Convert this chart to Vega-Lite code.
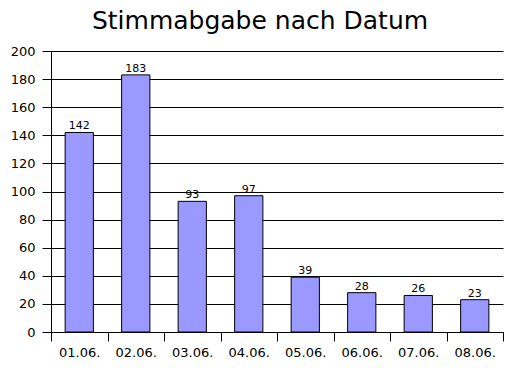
{
  "$schema": "https://vega.github.io/schema/vega-lite/v6.json",
  "width": 452,
  "height": 281,
  "autosize": {"type": "none"},
  "padding": {"left": 51, "top": 51, "right": 9, "bottom": 52},
  "background": "white",
  "title": {
    "text": "Stimmabgabe nach Datum",
    "font": "DejaVu Sans",
    "fontSize": 25,
    "fontWeight": "normal",
    "color": "black",
    "anchor": "middle",
    "baseline": "alphabetic",
    "offset": -9,
    "dx": -17
  },
  "config": {
    "view": {"stroke": null},
    "axis": {
      "labelFont": "DejaVu Sans",
      "labelFontSize": 13,
      "labelColor": "black",
      "domainColor": "black",
      "tickColor": "black",
      "gridColor": "black",
      "gridOpacity": 1,
      "domainWidth": 1,
      "tickWidth": 1,
      "gridWidth": 1
    }
  },
  "data": {
    "values": [
      {"datum": "01.06.", "stimmen": 142},
      {"datum": "02.06.", "stimmen": 183},
      {"datum": "03.06.", "stimmen": 93},
      {"datum": "04.06.", "stimmen": 97},
      {"datum": "05.06.", "stimmen": 39},
      {"datum": "06.06.", "stimmen": 28},
      {"datum": "07.06.", "stimmen": 26},
      {"datum": "08.06.", "stimmen": 23}
    ]
  },
  "encoding": {
    "x": {
      "field": "datum",
      "type": "nominal",
      "sort": null,
      "scale": {"paddingInner": 0, "paddingOuter": 0},
      "axis": {
        "title": null,
        "labelAngle": 0,
        "tickBand": "extent",
        "tickSize": 9,
        "labelPadding": 5,
        "grid": false
      }
    },
    "y": {
      "field": "stimmen",
      "type": "quantitative",
      "scale": {"domain": [0, 200], "nice": false},
      "axis": {
        "title": null,
        "values": [0, 20, 40, 60, 80, 100, 120, 140, 160, 180, 200],
        "tickSize": 9,
        "labelPadding": 7,
        "grid": true
      }
    }
  },
  "layer": [
    {
      "mark": {"type": "bar", "width": {"band": 0.5}, "color": "#9999FF", "stroke": "black", "strokeWidth": 1}
    },
    {
      "mark": {"type": "text", "baseline": "alphabetic", "dy": -3, "font": "DejaVu Sans", "fontSize": 11, "color": "black"},
      "encoding": {"text": {"field": "stimmen", "type": "quantitative"}}
    }
  ]
}
